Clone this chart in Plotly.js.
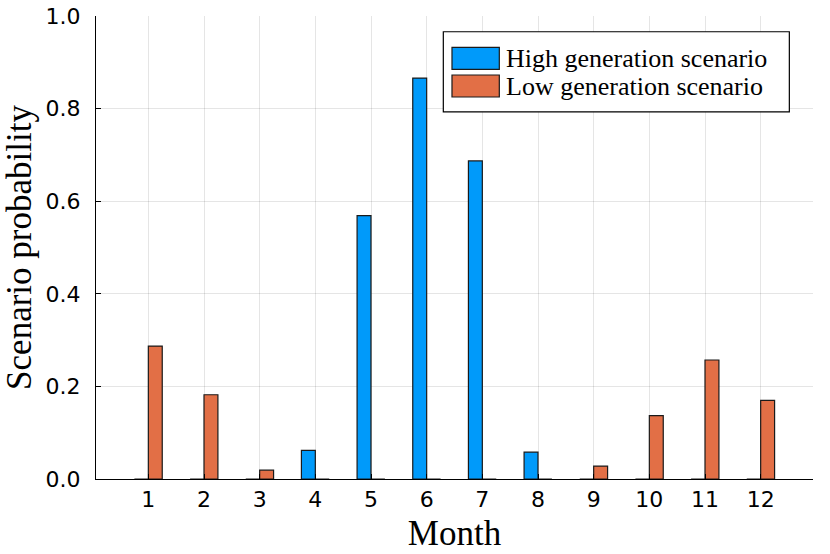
<!DOCTYPE html>
<html>
<head>
<meta charset="utf-8">
<script src="https://cdn.plot.ly/plotly-3.0.1.min.js"></script>
<style>
  html, body { margin: 0; padding: 0; background: #fff; }
  #chart { width: 830px; height: 554px; }
</style>
</head>
<body>
<div id="chart"></div>
<script>
// Scenario probability per month
var months = [1, 2, 3, 4, 5, 6, 7, 8, 9, 10, 11, 12];
var highGen = [0, 0, 0, 0.062, 0.569, 0.866, 0.687, 0.058, 0, 0, 0, 0];
var lowGen = [0.287, 0.182, 0.019, 0, 0, 0, 0, 0, 0.028, 0.137, 0.257, 0.170];
var seriesNames = ['High generation scenario', 'Low generation scenario'];
var seriesColors = ['#009AFA', '#E26F46'];
var yTicks = [0, 0.2, 0.4, 0.6, 0.8, 1.0];
var yTickText = ['0.0', '0.2', '0.4', '0.6', '0.8', '1.0'];

var serif = 'Liberation Serif, Times New Roman, serif';
var sans = 'DejaVu Sans, sans-serif';

var traces = [highGen, lowGen].map(function (vals, i) {
    return {
        x: months,
        y: vals,
        type: 'bar',
        name: seriesNames[i],
        marker: { color: seriesColors[i], line: { color: '#1a1a1a', width: 1.2 } },
        showlegend: false
    };
});

// Hand-built legend so the swatches are the same size as in the figure
var shapes = [{
    type: 'rect', xref: 'paper', yref: 'paper',
    x0: 0.4844, x1: 0.967, y0: 0.793, y1: 0.966,
    fillcolor: '#fff', line: { color: '#000', width: 1.2 }, layer: 'above'
}];
var annotations = [];
seriesNames.forEach(function (name, i) {
    var top = 0.9324 - i * 0.0598;
    shapes.push({
        type: 'rect', xref: 'paper', yref: 'paper',
        x0: 0.4965, x1: 0.5625, y0: top - 0.0475, y1: top,
        fillcolor: seriesColors[i], line: { color: '#1a1a1a', width: 1.2 }, layer: 'above'
    });
    annotations.push({
        xref: 'paper', yref: 'paper', x: 0.569, y: top - 0.0238,
        xanchor: 'left', yanchor: 'middle', showarrow: false,
        text: name, font: { family: serif, size: 26, color: '#000' }
    });
});

var layout = {
    width: 830,
    height: 554,
    paper_bgcolor: '#fff',
    plot_bgcolor: '#fff',
    barmode: 'group',
    bargap: 0.5,
    bargroupgap: 0,
    margin: { l: 96, r: 17, t: 16, b: 75 },
    xaxis: {
        range: [0.06, 12.94],
        tickvals: months,
        ticktext: months.map(String),
        ticks: 'inside',
        ticklen: 5,
        tickcolor: '#000',
        showgrid: true,
        gridcolor: 'rgba(0,0,0,0.1)',
        gridwidth: 1,
        showline: true,
        linecolor: '#000',
        linewidth: 1.2,
        zeroline: false,
        tickfont: { family: sans, size: 22, color: '#000' },
        title: { text: 'Month', font: { family: serif, size: 35, color: '#000' }, standoff: 10 }
    },
    yaxis: {
        range: [0, 1],
        tickvals: yTicks,
        ticktext: yTickText,
        ticks: 'inside',
        ticklen: 5,
        tickcolor: '#000',
        showgrid: true,
        gridcolor: 'rgba(0,0,0,0.1)',
        gridwidth: 1,
        showline: true,
        linecolor: '#000',
        linewidth: 1.2,
        zeroline: false,
        ticklabelstandoff: 10,
        tickfont: { family: sans, size: 22, color: '#000' },
        title: { text: 'Scenario probability', font: { family: serif, size: 35, color: '#000' }, standoff: 10 }
    },
    shapes: shapes,
    annotations: annotations
};

Plotly.newPlot('chart', traces, layout, { staticPlot: true });
</script>
</body>
</html>
